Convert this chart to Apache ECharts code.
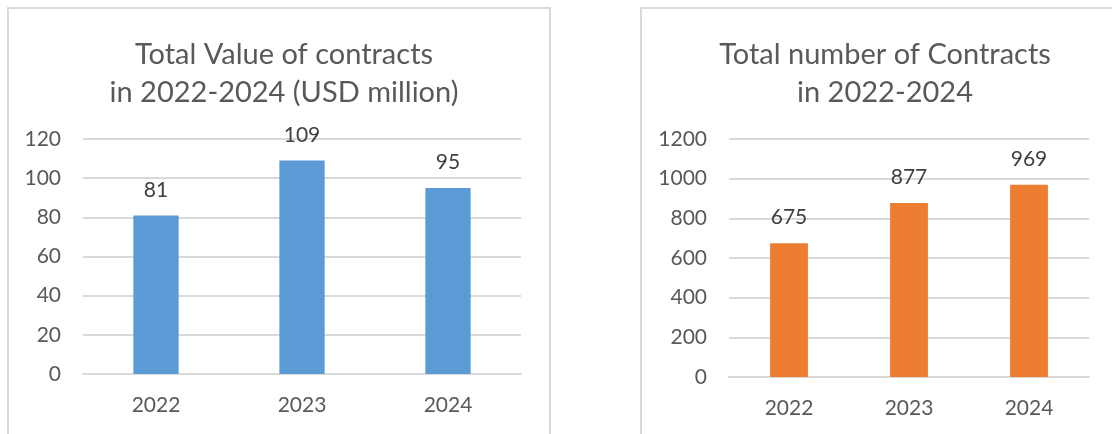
<!DOCTYPE html>
<html>
<head>
<meta charset="utf-8">
<script src="https://cdn.jsdelivr.net/npm/echarts@6/dist/echarts.min.js"></script>
<style>
  html, body { margin: 0; padding: 0; background: #fff; }
  #chart { width: 1112px; height: 434px; }
</style>
</head>
<body>
<div id="chart"></div>
<script>
  // data
  const years = ['2022', '2023', '2024']
  const contractValue = [81, 109, 95]       // USD million
  const contractCount = [675, 877, 969]
  const valueAxisMax = 120, valueAxisStep = 20
  const countAxisMax = 1200, countAxisStep = 200

  const FONT = 'Lato, "Open Sans", sans-serif'
  const GRID_GRAY = '#d9d9d9'

  function yAxisOf(idx, max, step) {
    return {
      type: 'value',
      gridIndex: idx,
      min: 0,
      max: max,
      interval: step,
      axisLine: { show: false },
      axisTick: { show: false },
      axisLabel: {
        color: '#595959', fontSize: 21, fontFamily: FONT, margin: 22,
        formatter: v => String(v)   // no thousands separator
      },
      splitLine: { lineStyle: { color: GRID_GRAY, width: 2 } }
    }
  }

  function xAxisOf(idx) {
    return {
      type: 'category',
      gridIndex: idx,
      data: years,
      axisTick: { show: false },
      axisLine: { lineStyle: { color: GRID_GRAY, width: 2 } },
      axisLabel: { color: '#595959', fontSize: 21, fontFamily: FONT, margin: 21 }
    }
  }

  function barsOf(idx, data, color, width) {
    return {
      type: 'bar',
      xAxisIndex: idx,
      yAxisIndex: idx,
      data: data,
      barWidth: width,
      itemStyle: { color: color },
      label: {
        show: true,
        position: 'top',
        distance: 15,
        color: '#404040',
        fontSize: 21,
        fontFamily: FONT
      }
    }
  }

  const titleStyle = { color: '#595959', fontSize: 29, fontWeight: 'normal', lineHeight: 38, fontFamily: FONT }

  const chart = echarts.init(document.getElementById('chart'))
  chart.setOption({
    animation: false,
    title: [
      {
        text: 'Total Value of contracts\nin 2022-2024 (USD million)',
        left: 279, top: 31, textAlign: 'center',
        textStyle: titleStyle
      },
      {
        text: 'Total number of Contracts\nin 2022-2024',
        left: 880, top: 31, textAlign: 'center',
        textStyle: titleStyle
      }
    ],
    // the two light grey chart frames
    graphic: [
      { type: 'rect', shape: { x: 8, y: 8, width: 542, height: 500 }, style: { fill: 'none', stroke: GRID_GRAY, lineWidth: 2 } },
      { type: 'rect', shape: { x: 641, y: 8, width: 600, height: 500 }, style: { fill: 'none', stroke: GRID_GRAY, lineWidth: 2 } }
    ],
    grid: [
      { left: 83, right: 591, top: 139, bottom: 60 },
      { left: 729, right: 23, top: 139, bottom: 57 }
    ],
    xAxis: [xAxisOf(0), xAxisOf(1)],
    yAxis: [yAxisOf(0, valueAxisMax, valueAxisStep), yAxisOf(1, countAxisMax, countAxisStep)],
    series: [
      barsOf(0, contractValue, '#5b9bd5', '31%'),
      barsOf(1, contractCount, '#ed7d31', '31.5%')
    ]
  })
</script>
</body>
</html>
